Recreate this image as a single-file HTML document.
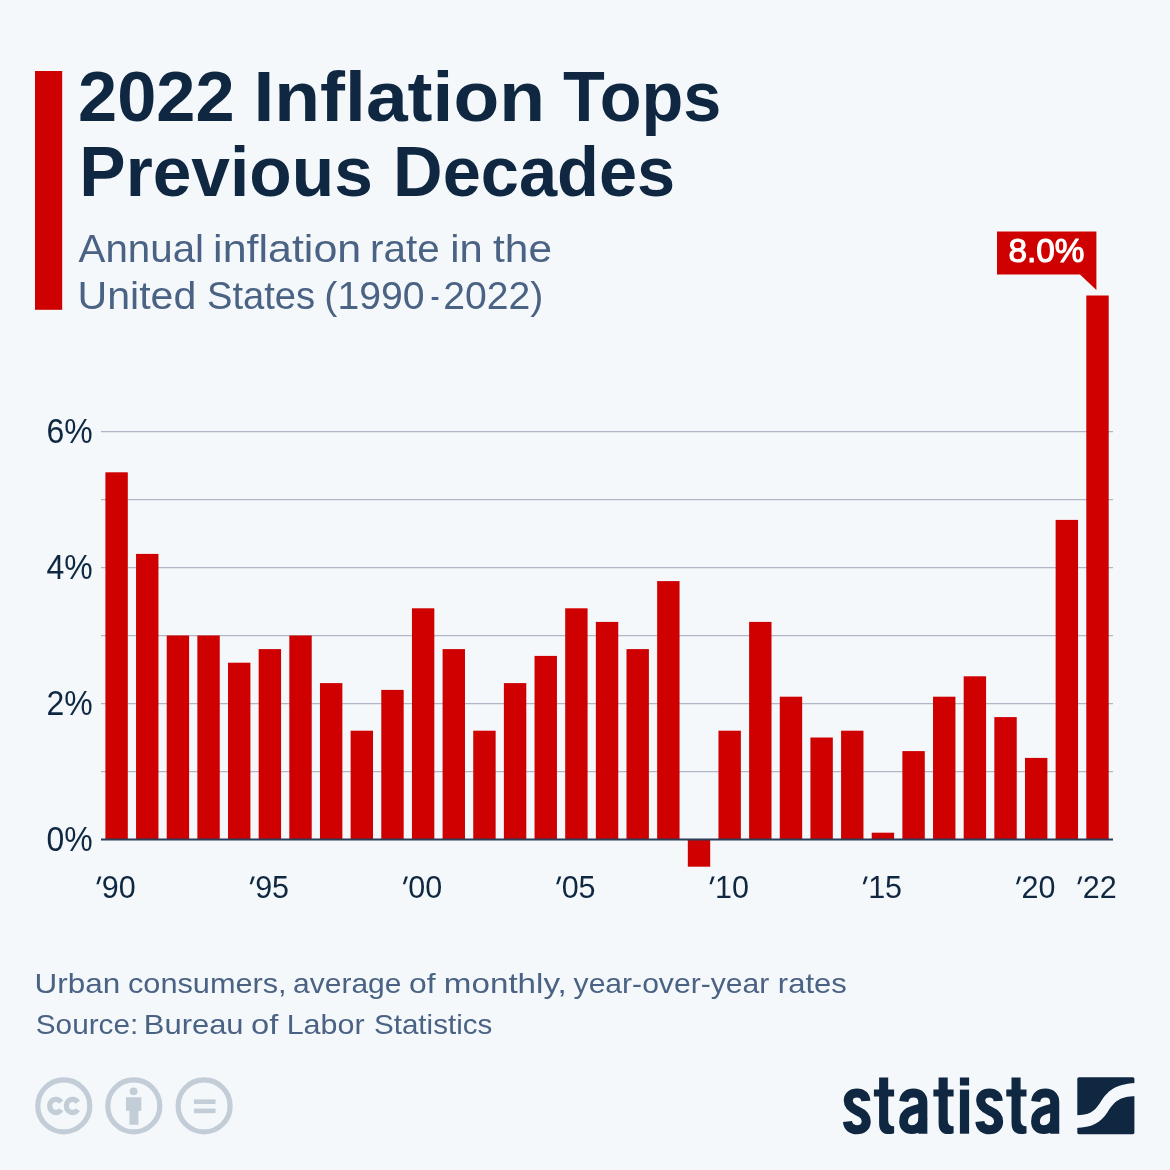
<!DOCTYPE html>
<html><head><meta charset="utf-8"><title>2022 Inflation Tops Previous Decades</title>
<style>
html,body{margin:0;padding:0;background:#f4f8fb;}
body{width:1170px;height:1170px;overflow:hidden;font-family:"Liberation Sans",sans-serif;}
svg{display:block;will-change:transform;font-family:"Liberation Sans",sans-serif;}
</style></head><body>
<svg width="1170" height="1170" viewBox="0 0 1170 1170">
<rect x="0" y="0" width="1170" height="1170" fill="#f4f8fb"/>
<rect x="35" y="71" width="27.2" height="238.8" fill="#cf0000"/>
<g fill="#0f2741" font-weight="bold" font-size="70.5px">
<text x="78.0" y="120.6" textLength="156.53" lengthAdjust="spacingAndGlyphs">2022</text>
<text x="253.44" y="120.6" textLength="291.64" lengthAdjust="spacingAndGlyphs">Inflation</text>
<text x="563.03" y="120.6" textLength="158.38" lengthAdjust="spacingAndGlyphs">Tops</text>
<text x="79.36" y="196.1" textLength="293.41" lengthAdjust="spacingAndGlyphs">Previous</text>
<text x="393.11" y="196.1" textLength="282.14" lengthAdjust="spacingAndGlyphs">Decades</text>
</g>
<g fill="#4a6283" font-size="39px">
<text x="78.5" y="262.3" textLength="125.52" lengthAdjust="spacingAndGlyphs">Annual</text>
<text x="213.1" y="262.3" textLength="148.09" lengthAdjust="spacingAndGlyphs">inflation</text>
<text x="370.03" y="262.3" textLength="69.62" lengthAdjust="spacingAndGlyphs">rate</text>
<text x="450.36" y="262.3" textLength="32.46" lengthAdjust="spacingAndGlyphs">in</text>
<text x="493.1" y="262.3" textLength="58.92" lengthAdjust="spacingAndGlyphs">the</text>
<text x="77.54" y="309.1" textLength="118.79" lengthAdjust="spacingAndGlyphs">United</text>
<text x="206.94" y="309.1" textLength="108.2" lengthAdjust="spacingAndGlyphs">States</text>
<text x="324.39" y="309.1" textLength="100.16" lengthAdjust="spacingAndGlyphs">(1990</text>
<text x="430.4" y="309.1" textLength="9.1" lengthAdjust="spacingAndGlyphs">-</text>
<text x="443.19" y="309.1" textLength="100.17" lengthAdjust="spacingAndGlyphs">2022)</text>
</g>
<g stroke="#b0b6c5" stroke-width="1.2">
<line x1="101" y1="771.6" x2="1113" y2="771.6"/>
<line x1="101" y1="703.6" x2="1113" y2="703.6"/>
<line x1="101" y1="635.6" x2="1113" y2="635.6"/>
<line x1="101" y1="567.6" x2="1113" y2="567.6"/>
<line x1="101" y1="499.6" x2="1113" y2="499.6"/>
<line x1="101" y1="431.6" x2="1113" y2="431.6"/>
</g>
<g fill="#cf0000">
<rect x="105.40" y="472.30" width="22.4" height="367.20"/>
<rect x="136.05" y="553.90" width="22.4" height="285.60"/>
<rect x="166.71" y="635.50" width="22.4" height="204.00"/>
<rect x="197.36" y="635.50" width="22.4" height="204.00"/>
<rect x="228.01" y="662.70" width="22.4" height="176.80"/>
<rect x="258.66" y="649.10" width="22.4" height="190.40"/>
<rect x="289.32" y="635.50" width="22.4" height="204.00"/>
<rect x="319.97" y="683.10" width="22.4" height="156.40"/>
<rect x="350.62" y="730.70" width="22.4" height="108.80"/>
<rect x="381.28" y="689.90" width="22.4" height="149.60"/>
<rect x="411.93" y="608.30" width="22.4" height="231.20"/>
<rect x="442.58" y="649.10" width="22.4" height="190.40"/>
<rect x="473.24" y="730.70" width="22.4" height="108.80"/>
<rect x="503.89" y="683.10" width="22.4" height="156.40"/>
<rect x="534.54" y="655.90" width="22.4" height="183.60"/>
<rect x="565.19" y="608.30" width="22.4" height="231.20"/>
<rect x="595.85" y="621.90" width="22.4" height="217.60"/>
<rect x="626.50" y="649.10" width="22.4" height="190.40"/>
<rect x="657.15" y="581.10" width="22.4" height="258.40"/>
<rect x="687.81" y="839.50" width="22.4" height="27.20"/>
<rect x="718.46" y="730.70" width="22.4" height="108.80"/>
<rect x="749.11" y="621.90" width="22.4" height="217.60"/>
<rect x="779.77" y="696.70" width="22.4" height="142.80"/>
<rect x="810.42" y="737.50" width="22.4" height="102.00"/>
<rect x="841.07" y="730.70" width="22.4" height="108.80"/>
<rect x="871.72" y="832.70" width="22.4" height="6.80"/>
<rect x="902.38" y="751.10" width="22.4" height="88.40"/>
<rect x="933.03" y="696.70" width="22.4" height="142.80"/>
<rect x="963.68" y="676.30" width="22.4" height="163.20"/>
<rect x="994.34" y="717.10" width="22.4" height="122.40"/>
<rect x="1024.99" y="757.90" width="22.4" height="81.60"/>
<rect x="1055.64" y="519.90" width="22.4" height="319.60"/>
<rect x="1086.30" y="295.50" width="22.4" height="544.00"/>
</g>
<line x1="101" y1="839.5" x2="1113" y2="839.5" stroke="#2b3d59" stroke-width="2"/>
<g fill="#0f2741" font-size="35px">
<text x="46.5" y="851.1" textLength="46.2" lengthAdjust="spacingAndGlyphs">0%</text>
<text x="46.5" y="715.1" textLength="46.2" lengthAdjust="spacingAndGlyphs">2%</text>
<text x="46.5" y="579.1" textLength="46.2" lengthAdjust="spacingAndGlyphs">4%</text>
<text x="46.5" y="443.1" textLength="46.2" lengthAdjust="spacingAndGlyphs">6%</text>
</g>
<g fill="#0f2741" font-size="30.5px" text-anchor="middle">
<text x="118.8" y="897.8">90</text>
<path d="M98.8 876.6h2.7l-2.9 7.7h-2.2z"/>
<text x="272.1" y="897.8">95</text>
<path d="M252.1 876.6h2.7l-2.9 7.7h-2.2z"/>
<text x="425.3" y="897.8">00</text>
<path d="M405.3 876.6h2.7l-2.9 7.7h-2.2z"/>
<text x="578.6" y="897.8">05</text>
<path d="M558.6 876.6h2.7l-2.9 7.7h-2.2z"/>
<text x="731.9" y="897.8">10</text>
<path d="M711.9 876.6h2.7l-2.9 7.7h-2.2z"/>
<text x="885.1" y="897.8">15</text>
<path d="M865.1 876.6h2.7l-2.9 7.7h-2.2z"/>
<text x="1038.4" y="897.8">20</text>
<path d="M1018.4 876.6h2.7l-2.9 7.7h-2.2z"/>
<text x="1099.7" y="897.8">22</text>
<path d="M1079.7 876.6h2.7l-2.9 7.7h-2.2z"/>
</g>
<path d="M997 231.5H1096.4V290L1080 274.5H997Z" fill="#cf0000"/>
<text x="1008.5" y="262.3" fill="#ffffff" stroke="#ffffff" stroke-width="1.1" stroke-linejoin="round" font-size="34px" textLength="76" lengthAdjust="spacingAndGlyphs">8.0%</text>
<g fill="#4a6283" font-size="28.3px">
<text x="34.58" y="992.6" textLength="85.62" lengthAdjust="spacingAndGlyphs">Urban</text>
<text x="128.02" y="992.6" textLength="158.64" lengthAdjust="spacingAndGlyphs">consumers,</text>
<text x="293.14" y="992.6" textLength="108.3" lengthAdjust="spacingAndGlyphs">average</text>
<text x="408.97" y="992.6" textLength="26.59" lengthAdjust="spacingAndGlyphs">of</text>
<text x="443.86" y="992.6" textLength="122.91" lengthAdjust="spacingAndGlyphs">monthly,</text>
<text x="573.6" y="992.6" textLength="195.6" lengthAdjust="spacingAndGlyphs">year-over-year</text>
<text x="777.81" y="992.6" textLength="69.0" lengthAdjust="spacingAndGlyphs">rates</text>
<text x="35.75" y="1033.6" textLength="102.51" lengthAdjust="spacingAndGlyphs">Source:</text>
<text x="143.81" y="1033.6" textLength="99.75" lengthAdjust="spacingAndGlyphs">Bureau</text>
<text x="251.04" y="1033.6" textLength="27.3" lengthAdjust="spacingAndGlyphs">of</text>
<text x="286.65" y="1033.6" textLength="77.96" lengthAdjust="spacingAndGlyphs">Labor</text>
<text x="373.95" y="1033.6" textLength="118.37" lengthAdjust="spacingAndGlyphs">Statistics</text>
</g>
<g fill="none" stroke="#c2cdd8" stroke-width="5.2">
<circle cx="63.8" cy="1105.9" r="26"/>
<circle cx="133.8" cy="1105.9" r="26"/>
<circle cx="204.1" cy="1105.9" r="26"/>
<path d="M61.02 1102.26A6.2 6.6 0 1 0 61.02 1109.54" stroke-width="5.3"/>
<path d="M77.72 1102.26A6.2 6.6 0 1 0 77.72 1109.54" stroke-width="5.3"/>
</g>
<g fill="#c2cdd8">
<circle cx="133.6" cy="1091.3" r="3.9"/>
<path d="M126 1097.3H141.3V1110.8H138.4V1124.8H129.4V1110.8H126Z"/>
<rect x="193.9" y="1099.4" width="21.6" height="4.6"/>
<rect x="193.9" y="1108.6" width="21.6" height="4.6"/>
</g>
<g fill="#0f2741">
<path d="M879.1 1077.5H888.2V1089.6H894.1V1096.6H888.2V1120Q888.2 1126.3 894.1 1126.3V1133.2Q891.6 1134.1 888.6 1134.1Q879.1 1134.1 879.1 1123V1096.6H873.9V1089.6H879.1Z"/>
<path d="M938.6 1077.5H947.7V1089.6H953.6V1096.6H947.7V1120Q947.7 1126.3 953.6 1126.3V1133.2Q951.1 1134.1 948.1 1134.1Q938.6 1134.1 938.6 1123V1096.6H933.4V1089.6H938.6Z"/>
<path d="M1011.5 1077.5H1020.6V1089.6H1026.5V1096.6H1020.6V1120Q1020.6 1126.3 1026.5 1126.3V1133.2Q1024.0 1134.1 1021.0 1134.1Q1011.5 1134.1 1011.5 1123V1096.6H1006.3V1089.6H1011.5Z"/>
<rect x="959.9" y="1077.5" width="9.2" height="8"/>
<rect x="959.9" y="1089.6" width="9.2" height="44.1"/>
</g>
<g fill="none" stroke="#0f2741" stroke-width="9.1">
<path d="M865.8,1101 C865.5,1096 862.5,1093 857.0,1093 C851.5,1093 848.3,1096 848.3,1100.5 C848.3,1106 852.0,1108.5 857.5,1111 C863.0,1113.5 866.2,1116 866.2,1121.5 C866.2,1126.8 862.5,1129.7 857.0,1129.7 C851.5,1129.7 848.0,1127 847.5,1121.5"/>
<path d="M998.2,1101 C997.9,1096 994.9,1093 989.4,1093 C983.9,1093 980.7,1096 980.7,1100.5 C980.7,1106 984.4,1108.5 989.9,1111 C995.4,1113.5 998.6,1116 998.6,1121.5 C998.6,1126.8 994.9,1129.7 989.4,1129.7 C983.9,1129.7 980.4,1127 979.9,1121.5"/>
<path d="M903.8,1101.5 C904.3,1096 908.0,1093 913.5,1093 C919.5,1093 922.8,1096.5 922.8,1102 V1133.7"/>
<path d="M922.8,1107.5 C911.0,1110 903.6,1112 903.6,1121.5 C903.6,1127 907.0,1129.7 911.8,1129.7 C917.5,1129.7 922.8,1126 922.8,1118" stroke-width="8.8"/>
<path d="M1035.7,1101.5 C1036.2,1096 1039.9,1093 1045.4,1093 C1051.4,1093 1054.7,1096.5 1054.7,1102 V1133.7"/>
<path d="M1054.7,1107.5 C1042.9,1110 1035.5,1112 1035.5,1121.5 C1035.5,1127 1038.9,1129.7 1043.7,1129.7 C1049.4,1129.7 1054.7,1126 1054.7,1118" stroke-width="8.8"/>
</g>
<rect x="1077.3" y="1077.2" width="57.1" height="57" rx="1.6" fill="#0f2741"/>
<path d="M1076,1115.3 C1089,1115 1094,1112 1100,1103 C1106,1094 1112,1084 1136,1083.1 V1096.1 C1119,1096.5 1114,1102 1107,1113 C1100,1123 1092,1127.5 1076,1127.9 Z" fill="#f4f8fb"/>
</svg>
</body></html>
